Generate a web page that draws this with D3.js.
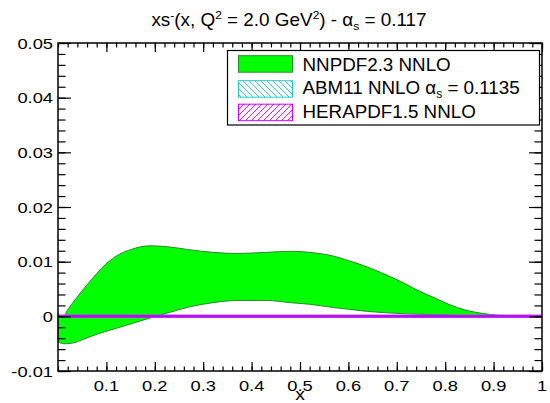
<!DOCTYPE html>
<html><head><meta charset="utf-8">
<script src="https://cdn.jsdelivr.net/npm/d3@7"></script>
<style>body{margin:0;background:#fff}svg{display:block}text{font-family:"Liberation Sans",Arial,Helvetica,sans-serif;fill:#000}</style>
</head><body>
<svg id="c" width="550" height="403"></svg>
<script>
// ---- data ----
const xs = [0, 0.01, 0.02, 0.035, 0.05, 0.07, 0.09, 0.12, 0.15, 0.19, 0.23, 0.27, 0.32, 0.37, 0.43, 0.48, 0.52, 0.57, 0.6, 0.64, 0.67, 0.71, 0.74, 0.78, 0.81, 0.84, 0.88, 0.91, 0.95, 1.0];
const nnpdfUpper = [0.0005, -0.0002, 0.0012, 0.003, 0.0047, 0.0068, 0.0088, 0.011, 0.0122, 0.0129, 0.0127, 0.0122, 0.0117, 0.0115, 0.0117, 0.0119, 0.0117, 0.011, 0.0102, 0.009, 0.0079, 0.0063, 0.0049, 0.0033, 0.0021, 0.0012, 0.0005, 0.0002, 0.0001, 0];
const nnpdfLower = [-0.0046, -0.005, -0.005, -0.0048, -0.0043, -0.0036, -0.003, -0.0022, -0.0014, -0.0003, 0.0007, 0.0017, 0.0025, 0.0029, 0.0029, 0.0025, 0.0022, 0.0016, 0.0013, 0.0009, 0.0007, 0.0005, 0.0004, 0.0003, 0.0002, 0.0001, 0.00005, 0.00002, 0.00001, 0];
const abmValues = xs.map(() => 0);      // ABM11: xs- = 0
const heraValues = xs.map(() => 0);     // HERAPDF1.5: xs- = 0
const xMajorTicks = [0.1,0.2,0.3,0.4,0.5,0.6,0.7,0.8,0.9,1];
const xTickLabels = ["0.1","0.2","0.3","0.4","0.5","0.6","0.7","0.8","0.9","1"];
const yMajorTicks = [-0.01,0,0.01,0.02,0.03,0.04,0.05];
const yTickLabels = ["-0.01","0","0.01","0.02","0.03","0.04","0.05"];
const legendLabels = ["NNPDF2.3 NNLO","ABM11 NNLO","HERAPDF1.5 NNLO"];

// ---- layout ----
const L=58, R=542, T=43, B=371;
const svg = d3.select("#c");
const x = d3.scaleLinear().domain([0,1]).range([L,R]);
const y = d3.scaleLinear().domain([-0.01,0.05]).range([B,T]);
const xMinor = d3.range(0,1.0001,0.02).map(v=>+v.toFixed(2));
const yMinor = d3.range(-0.01,0.05001,0.002).map(v=>+v.toFixed(3));

const defs = svg.append("defs");
function hatch(id,color,dir){
  const p = defs.append("pattern").attr("id",id).attr("patternUnits","userSpaceOnUse")
    .attr("width",6).attr("height",6);
  p.append("rect").attr("width",6).attr("height",6).attr("fill","#fff");
  const d = dir>0 ? "M-1,7 L7,-1 M-4,4 L4,-4 M2,10 L10,2" : "M-1,-1 L7,7 M-4,2 L4,10 M2,-4 L10,4";
  p.append("path").attr("d",d).attr("stroke",color).attr("stroke-width",0.9);
}
hatch("hCyan","#22c8c8",-1);
hatch("hMag","#cc00ff",1);

// band
const data = xs.map((v,i)=>({x:v,u:nnpdfUpper[i],l:nnpdfLower[i],a:abmValues[i],h:heraValues[i]}));
svg.append("path").datum(data)
  .attr("d", d3.area().x(d=>x(d.x)).y0(d=>y(d.l)).y1(d=>y(d.u)).curve(d3.curveMonotoneX))
  .attr("fill","#00ff00").attr("stroke","#2a8a2a").attr("stroke-width",1);

// zero lines
svg.append("path").datum(data).attr("d", d3.line().x(d=>x(d.x)).y(d=>y(d.a)))
  .attr("fill","none").attr("stroke","#22c8c8").attr("stroke-width",3);
svg.append("path").datum(data).attr("d", d3.line().x(d=>x(d.x)).y(d=>y(d.h)))
  .attr("fill","none").attr("stroke","#cc00ff").attr("stroke-width",3);

// axes ticks
function ax(gen, tr){
  const g = svg.append("g").attr("transform",tr).call(gen);
  g.select(".domain").remove();
  g.selectAll("text").remove();
  g.selectAll("line").attr("stroke","#000").attr("stroke-width",1.2);
}
ax(d3.axisBottom(x).tickValues(xMinor).tickSize(-4.5).tickSizeOuter(0),`translate(0,${B})`);
ax(d3.axisBottom(x).tickValues(xMajorTicks).tickSize(-9).tickSizeOuter(0),`translate(0,${B})`);
ax(d3.axisTop(x).tickValues(xMinor).tickSize(-4.5).tickSizeOuter(0),`translate(0,${T})`);
ax(d3.axisTop(x).tickValues(xMajorTicks).tickSize(-9).tickSizeOuter(0),`translate(0,${T})`);
ax(d3.axisLeft(y).tickValues(yMinor).tickSize(-7.5).tickSizeOuter(0),`translate(${L},0)`);
ax(d3.axisLeft(y).tickValues(yMajorTicks).tickSize(-13).tickSizeOuter(0),`translate(${L},0)`);
ax(d3.axisRight(y).tickValues(yMinor).tickSize(-7.5).tickSizeOuter(0),`translate(${R},0)`);
ax(d3.axisRight(y).tickValues(yMajorTicks).tickSize(-13).tickSizeOuter(0),`translate(${R},0)`);

svg.append("rect").attr("x",L).attr("y",T).attr("width",R-L).attr("height",B-T)
  .attr("fill","none").attr("stroke","#000").attr("stroke-width",1.5);

// tick labels
const SX = 1.18, FS = 15.5;
function stext(px,py,str,anchor,fs,sx){
  return svg.append("text").attr("transform",`translate(${px},${py}) scale(${sx},1)`)
    .attr("text-anchor",anchor).attr("font-size",fs).text(str);
}
yMajorTicks.forEach((v,i)=>stext(L-5, y(v)+5.5, yTickLabels[i], "end", FS, SX));
xMajorTicks.forEach((v,i)=>stext(x(v), B+20, xTickLabels[i], "middle", FS, SX));
stext(300, 400, "x", "middle", 16, 1.2);

// title
const t = svg.append("text").attr("transform","translate(289,26) scale(1.08,1)")
  .attr("text-anchor","middle").attr("font-size",17.5);
t.append("tspan").text("xs");
t.append("tspan").attr("font-size",11).attr("dy",-7).text("-");
t.append("tspan").attr("dy",7).text("(x, Q");
t.append("tspan").attr("font-size",11).attr("dy",-7).text("2");
t.append("tspan").attr("dy",7).text(" = 2.0 GeV");
t.append("tspan").attr("font-size",11).attr("dy",-7).text("2");
t.append("tspan").attr("dy",7).text(") - α");
t.append("tspan").attr("font-size",11).attr("dy",4).text("s");
t.append("tspan").attr("dy",-4).text(" = 0.117");

// legend
svg.append("rect").attr("x",227.5).attr("y",50.5).attr("width",312).attr("height",74.5)
  .attr("fill","#fff").attr("stroke","#000").attr("stroke-width",1.2);
const fills = [["#00ff00","#2a8a2a"],["url(#hCyan)","#22c8c8"],["url(#hMag)","#cc00ff"]];
const rowY = [55.7, 80.7, 104.2];
const baseY = [70.7, 94.3, 117.7];
legendLabels.forEach((lab,i)=>{
  svg.append("rect").attr("x",238.5).attr("y",rowY[i]).attr("width",54).attr("height",16.5)
    .attr("fill",fills[i][0]).attr("stroke",fills[i][1]).attr("stroke-width",1);
  const tx = svg.append("text").attr("x",302.5).attr("y",baseY[i]).attr("font-size",18.8);
  tx.append("tspan").text(lab);
  if(i===1){
    tx.append("tspan").text(" α");
    tx.append("tspan").attr("font-size",12).attr("dy",4).text("s");
    tx.append("tspan").attr("dy",-4).text(" = 0.1135");
  }
});
</script>
</body></html>
